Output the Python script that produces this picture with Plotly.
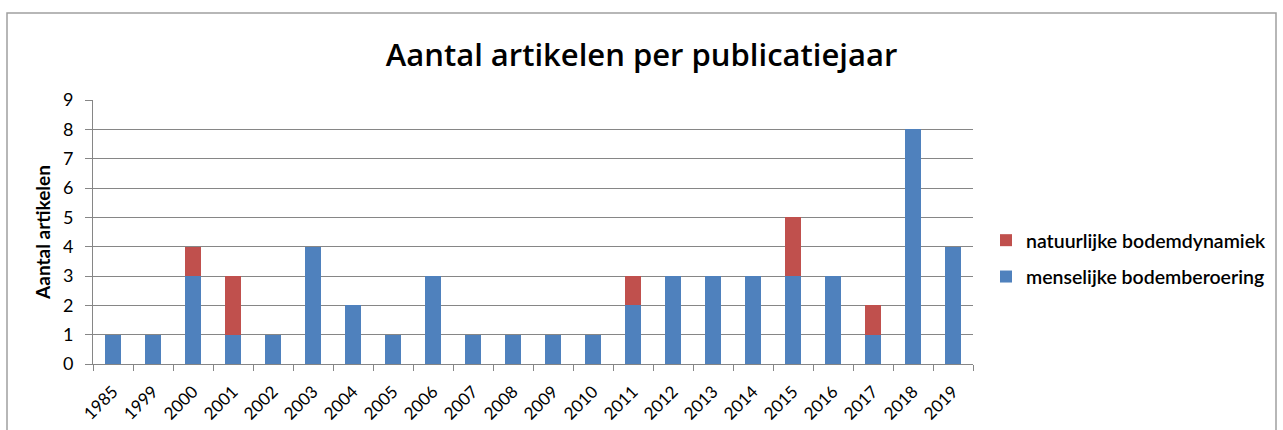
import plotly.graph_objects as go

# Publication years and article counts per category
years = ["1985", "1999", "2000", "2001", "2002", "2003", "2004", "2005", "2006", "2007", "2008",
         "2009", "2010", "2011", "2012", "2013", "2014", "2015", "2016", "2017", "2018", "2019"]
menselijk = [1, 1, 3, 1, 1, 4, 2, 1, 3, 1, 1, 1, 1, 2, 3, 3, 3, 3, 3, 1, 8, 4]
natuurlijk = [0, 0, 1, 2, 0, 0, 0, 0, 0, 0, 0, 0, 0, 1, 0, 0, 0, 2, 0, 1, 0, 0]
y_ticks = list(range(0, 10))

W, H = 1283, 430
L, R, T, B = 93, 310, 100, 66
pw, ph = W - L - R, H - T - B

def px(x):
    return (x - L) / pw

def py(y):
    return (H - B - y) / ph

fig = go.Figure()
fig.add_trace(go.Bar(x=years, y=menselijk, name="menselijke bodemberoering",
                     marker=dict(color="#4F81BD", line=dict(width=0)),
                     legendgroup="b", legendrank=2))
fig.add_trace(go.Bar(x=years, y=natuurlijk, name="natuurlijke bodemdynamiek",
                     marker=dict(color="#C0504D", line=dict(width=0)),
                     legendgroup="a", legendrank=1))

fig.update_layout(
    width=W, height=H,
    margin=dict(l=L, r=R, t=T, b=B, autoexpand=False),
    paper_bgcolor="white", plot_bgcolor="white",
    barmode="stack", bargap=0.6,
    showlegend=True,
    title=dict(text="Aantal artikelen per publicatiejaar", x=0.5, xanchor="center",
               y=1 - 55 / H, yanchor="middle",
               font=dict(family="Open Sans", size=31, color="black", weight=600)),
    legend=dict(x=px(986), y=py(221), xanchor="left", yanchor="top",
                traceorder="grouped", tracegroupgap=8,
                font=dict(family="Lato", size=19.5, color="black", weight=600),
                itemwidth=30, bgcolor="rgba(0,0,0,0)"),
    shapes=[dict(type="rect", xref="paper", yref="paper",
                 x0=px(7), x1=px(1276), y0=py(13), y1=py(440),
                 line=dict(color="#A0A0A0", width=1.5))],
)

fig.update_xaxes(
    type="category", tickangle=-45, tickson="boundaries",
    ticks="outside", ticklen=6, tickcolor="#868686",
    showline=True, linecolor="#868686", linewidth=1,
    showgrid=False, ticklabelstandoff=10, automargin=False,
    tickfont=dict(family="Lato", size=17, color="black"),
)
fig.update_yaxes(
    range=[0, 9], tickvals=y_ticks, ticktext=[str(v) for v in y_ticks],
    ticks="outside", ticklen=7, tickcolor="#868686",
    showline=True, linecolor="#868686", linewidth=1,
    showgrid=True, gridcolor="#868686", gridwidth=1,
    zeroline=False, ticklabelstandoff=8, automargin=False,
    tickfont=dict(family="Lato", size=18, color="black"),
    title=dict(text="<b>Aantal artikelen</b>", standoff=7,
               font=dict(family="Lato", size=19, color="black")),
)

fig.write_html("out.html")
